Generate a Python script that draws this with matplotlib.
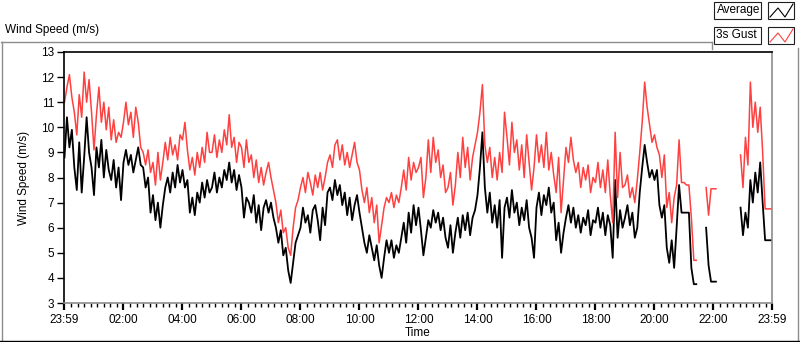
import numpy as np
import matplotlib.pyplot as plt
from matplotlib.lines import Line2D
from matplotlib.patches import Rectangle

nan = np.nan

# 5-minute values, one row per hour (00:00 ... 23:55)
avg = [
    8.8, 10.4, 9.2, 9.9, 8.4, 7.5, 9.4, 7.4, 8.8, 10.4, 9.0, 8.4,
    7.3, 9.2, 8.4, 9.5, 8.0, 9.1, 8.3, 7.9, 8.7, 7.6, 8.4, 7.1,
    8.6, 9.1, 8.5, 8.9, 8.2, 8.7, 9.2, 8.5, 8.4, 7.6, 8.0, 6.6,
    7.3, 6.3, 7.0, 6.0, 6.9, 7.6, 8.0, 7.4, 8.2, 7.6, 8.5, 7.8,
    8.3, 7.6, 7.9, 6.6, 7.2, 6.5, 7.4, 7.0, 7.8, 7.2, 7.9, 7.4,
    7.6, 8.2, 7.4, 8.0, 7.6, 8.3, 7.9, 8.6, 7.8, 8.3, 7.5, 8.1,
    7.6, 6.4, 7.2, 7.0, 6.6, 7.3, 6.2, 6.9, 5.9, 6.8, 7.1, 6.6,
    7.0, 6.4, 6.0, 5.4, 5.9, 4.9, 5.2, 4.3, 3.8, 4.6, 5.4, 5.7,
    6.0, 6.8, 6.2, 6.5, 5.8, 6.7, 6.9, 6.3, 5.5, 6.8, 6.1, 7.4,
    7.6, 7.1, 7.9, 7.3, 7.7, 6.9, 7.4, 6.5, 7.2, 6.3, 6.9, 7.3,
    6.6, 6.0, 5.4, 5.0, 5.7, 5.2, 4.7, 5.3, 4.5, 4.0, 4.8, 5.5,
    5.0, 5.5, 4.8, 5.3, 5.0, 5.6, 6.2, 5.4, 6.6, 5.8, 6.9, 6.1,
    6.8, 5.9, 4.9, 5.6, 6.3, 6.0, 6.7, 6.2, 6.6, 5.9, 6.4, 5.6,
    5.2, 6.1, 5.0, 5.8, 6.4, 5.6, 6.5, 5.9, 6.6, 5.7, 6.4, 6.7,
    7.3, 8.4, 9.8, 7.6, 6.6, 7.4, 6.2, 6.9, 6.0, 7.1, 4.8, 6.8,
    7.2, 6.4, 7.5, 6.6, 7.0, 6.1, 6.8, 6.3, 7.1, 6.0, 5.6, 4.8,
    6.8, 7.4, 6.5, 7.3, 6.9, 7.6, 6.6, 7.0, 5.5, 6.2, 5.0, 5.8,
    6.4, 6.9, 6.2, 6.8, 6.0, 6.5, 5.8, 6.4, 6.1, 6.7, 5.7, 6.3,
    6.2, 6.8, 6.0, 6.6, 5.7, 6.5, 6.1, 4.8, 7.9, 5.6, 6.7, 6.0,
    6.4, 6.9, 6.1, 6.6, 5.6, 6.0, 7.4, 8.4, 9.3, 8.6, 8.0, 8.3,
    7.9, 8.3, 6.9, 6.4, 6.9, 5.2, 4.6, 5.5, 4.4, 6.0, 7.7, 6.6,
    6.6, 6.6, 6.6, 4.4, 3.75, 3.75, nan, nan, nan, 6.0, 4.5, 3.85,
    3.85, 3.85, nan, nan, nan, nan, nan, nan, nan, nan, nan, 6.8,
    5.7, 6.6, 6.0, 7.9, 7.0, 8.2, 7.4, 8.6, 7.0, 5.5, 5.5, 5.5,
]

gust = [
    11.0, 11.6, 12.1, 11.2, 10.6, 9.7, 11.3, 10.4, 12.2, 11.0, 11.9, 10.6,
    9.1, 10.5, 11.6, 10.2, 11.0, 9.9, 10.8, 9.5, 10.3, 9.4, 9.8, 9.6,
    10.2, 11.0, 10.1, 10.6, 9.6, 10.8, 10.2, 9.2, 9.0, 8.5, 9.1, 8.2,
    8.6, 7.7, 9.0, 7.9, 8.6, 9.4, 8.7, 9.6, 8.9, 9.3, 8.7, 9.7,
    9.5, 10.2, 9.1, 8.3, 8.8, 8.1, 9.0, 8.4, 9.2, 8.6, 9.8, 9.0,
    9.0, 9.7, 8.8, 9.5, 9.0, 9.9, 9.3, 10.5, 9.2, 9.6, 8.6, 9.4,
    9.2, 8.4, 9.5, 8.6, 8.9, 8.0, 8.7, 7.8, 8.4, 7.7, 8.2, 8.6,
    8.0, 7.5, 7.0, 6.2, 6.7, 5.8, 6.0, 5.2, 4.9, 6.0, 6.8, 7.1,
    7.6, 8.0, 7.4, 8.2, 7.8, 7.3, 8.1, 7.6, 8.2, 7.5, 8.0, 8.6,
    8.9, 8.4, 9.3, 9.5, 8.7, 9.3, 8.5, 9.0, 8.4, 8.9, 9.4, 8.6,
    8.3, 7.5, 7.0, 7.6, 6.6, 7.2, 6.2, 6.9, 5.4, 6.1, 6.8, 7.2,
    7.0, 7.4, 6.8, 7.3, 7.0, 7.6, 8.3, 7.5, 8.8, 7.9, 8.6, 8.2,
    8.4, 8.8, 7.2, 8.0, 9.5, 8.2, 9.6, 8.6, 9.1, 8.0, 8.5, 7.4,
    7.6, 8.2, 6.9, 7.7, 9.0, 8.0, 9.6, 8.4, 9.2, 7.9, 8.8, 9.3,
    9.8, 10.6, 11.7, 9.3, 8.6, 9.2, 8.0, 8.8, 7.9, 9.0, 8.2, 10.6,
    9.6, 8.5, 10.2, 9.0, 9.5, 8.3, 9.3, 8.0, 9.7, 8.6, 7.5, 8.4,
    9.7, 8.6, 9.3, 8.4, 9.8, 8.3, 9.0, 8.1, 7.4, 8.8, 6.6, 7.9,
    9.2, 8.6, 9.6, 8.7, 8.2, 8.6, 7.6, 8.4, 7.9, 8.5, 7.4, 8.0,
    7.8, 8.6, 7.6, 8.3, 7.4, 8.7, 7.3, 6.2, 9.8, 7.2, 9.0, 7.6,
    7.7, 8.1, 7.2, 7.6, 7.0, 7.9, 9.0, 10.2, 11.8, 10.8, 10.1, 9.4,
    9.7, 9.2, 8.9, 8.0, 8.9, 6.8, 7.4, 6.2, 7.2, 7.7, 9.5, 7.8,
    7.8, 7.7, 7.7, 6.4, 4.7, 4.7, nan, nan, nan, 7.6, 6.5, 7.55,
    7.55, 7.55, nan, nan, nan, nan, nan, nan, nan, nan, nan, 8.9,
    7.6, 9.6, 8.5, 11.8, 10.0, 11.0, 9.8, 10.8, 9.0, 6.75, 6.75, 6.75,
]

series_names = ['Average', '3s Gust']
series_colors = ['black', '#ff4040']
x_tick_labels = ['23:59', '02:00', '04:00', '06:00', '08:00', '10:00',
                 '12:00', '14:00', '16:00', '18:00', '20:00', '22:00', '23:59']

plt.rcParams['font.family'] = ['Liberation Sans', 'DejaVu Sans']
plt.rcParams['font.size'] = 8.5

W, H = 800, 342
fig = plt.figure(figsize=(W / 100, H / 100), dpi=100)
fig.patch.set_facecolor('white')


def fx(x):
    return x / W


def fy(y):
    return 1 - y / H


ax = fig.add_axes([fx(64), fy(303), (772 - 64) / W, (303 - 52) / H])

t = np.arange(len(avg)) * 5 / 60
t_start = -1 / 60
t_end = 23 + 59 / 60

for vals, col, lw in zip([avg, gust], series_colors, [1.3, 1.1]):
    v = np.array(vals, dtype=float)
    ax.plot(np.append(t, t_end), np.append(v, v[-1]), color=col, lw=lw)

ax.set_xlim(t_start, t_end)
ax.set_ylim(3, 13)
ax.set_yticks(range(3, 14))

major = [t_start] + list(range(2, 23, 2)) + [t_end]
ax.set_xticks(major)
ax.set_xticklabels(x_tick_labels)
minor = [m for m in np.arange(0, 24, 2 / 9) if abs(m / 2 - round(m / 2)) > 0.01]
ax.set_xticks(minor, minor=True)

for s in ['left', 'top']:
    ax.spines[s].set_color('black')
    ax.spines[s].set_linewidth(1.2)
for s in ['right', 'bottom']:
    ax.spines[s].set_color('#8c8c8c')
    ax.spines[s].set_linewidth(1.2)

ax.tick_params(axis='y', direction='out', length=5, width=1, colors='black', pad=2)
ax.tick_params(axis='x', which='major', direction='out', length=5, width=1.6,
               colors='black', pad=3)
ax.tick_params(axis='x', which='minor', direction='out', length=3, width=1,
               colors='black')

ax.set_ylabel('Wind Speed (m/s)')
ax.yaxis.set_label_coords((30 - 64) / 708, 0.5)
ax.set_xlabel('Time', va='center')
ax.xaxis.set_label_coords(0.5, (303 - 333) / 251)

# outer frame
frame = '#8c8c8c'
fig.add_artist(Line2D([fx(1), fx(712)], [fy(42), fy(42)], color=frame, lw=1, transform=fig.transFigure))
fig.add_artist(Line2D([fx(712), fx(712)], [fy(42), fy(49)], color=frame, lw=1, transform=fig.transFigure))
fig.add_artist(Line2D([fx(1.5), fx(1.5)], [fy(42), fy(341)], color=frame, lw=1, transform=fig.transFigure))
fig.add_artist(Line2D([fx(797.5), fx(797.5)], [fy(48), fy(341)], color=frame, lw=1, transform=fig.transFigure))
fig.add_artist(Line2D([fx(0), fx(800)], [fy(340.5), fy(340.5)], color='black', lw=1, transform=fig.transFigure))

fig.text(fx(5), fy(30), 'Wind Speed (m/s)', va='center', ha='left')

# legend
for i, (name, col) in enumerate(zip(series_names, series_colors)):
    top = 2 + 25 * i
    fig.add_artist(Rectangle((fx(714), fy(top + 17)), 47 / W, 17 / H, facecolor='white',
                             edgecolor='#202020', lw=0.8, transform=fig.transFigure))
    fig.text(fx(716.5), fy(top + 8.5), name, va='center', ha='left')
    fig.add_artist(Rectangle((fx(768), fy(top + 17)), 26 / W, 17 / H, facecolor='white',
                             edgecolor='#202020', lw=0.8, transform=fig.transFigure))
    xs = [fx(770), fx(778), fx(785), fx(793)]
    ys = [fy(top + 15), fy(top + 6), fy(top + 15), fy(top + 2)]
    fig.add_artist(Line2D(xs, ys, color=col, lw=0.8, transform=fig.transFigure))

fig.savefig('out.png', dpi=100)
